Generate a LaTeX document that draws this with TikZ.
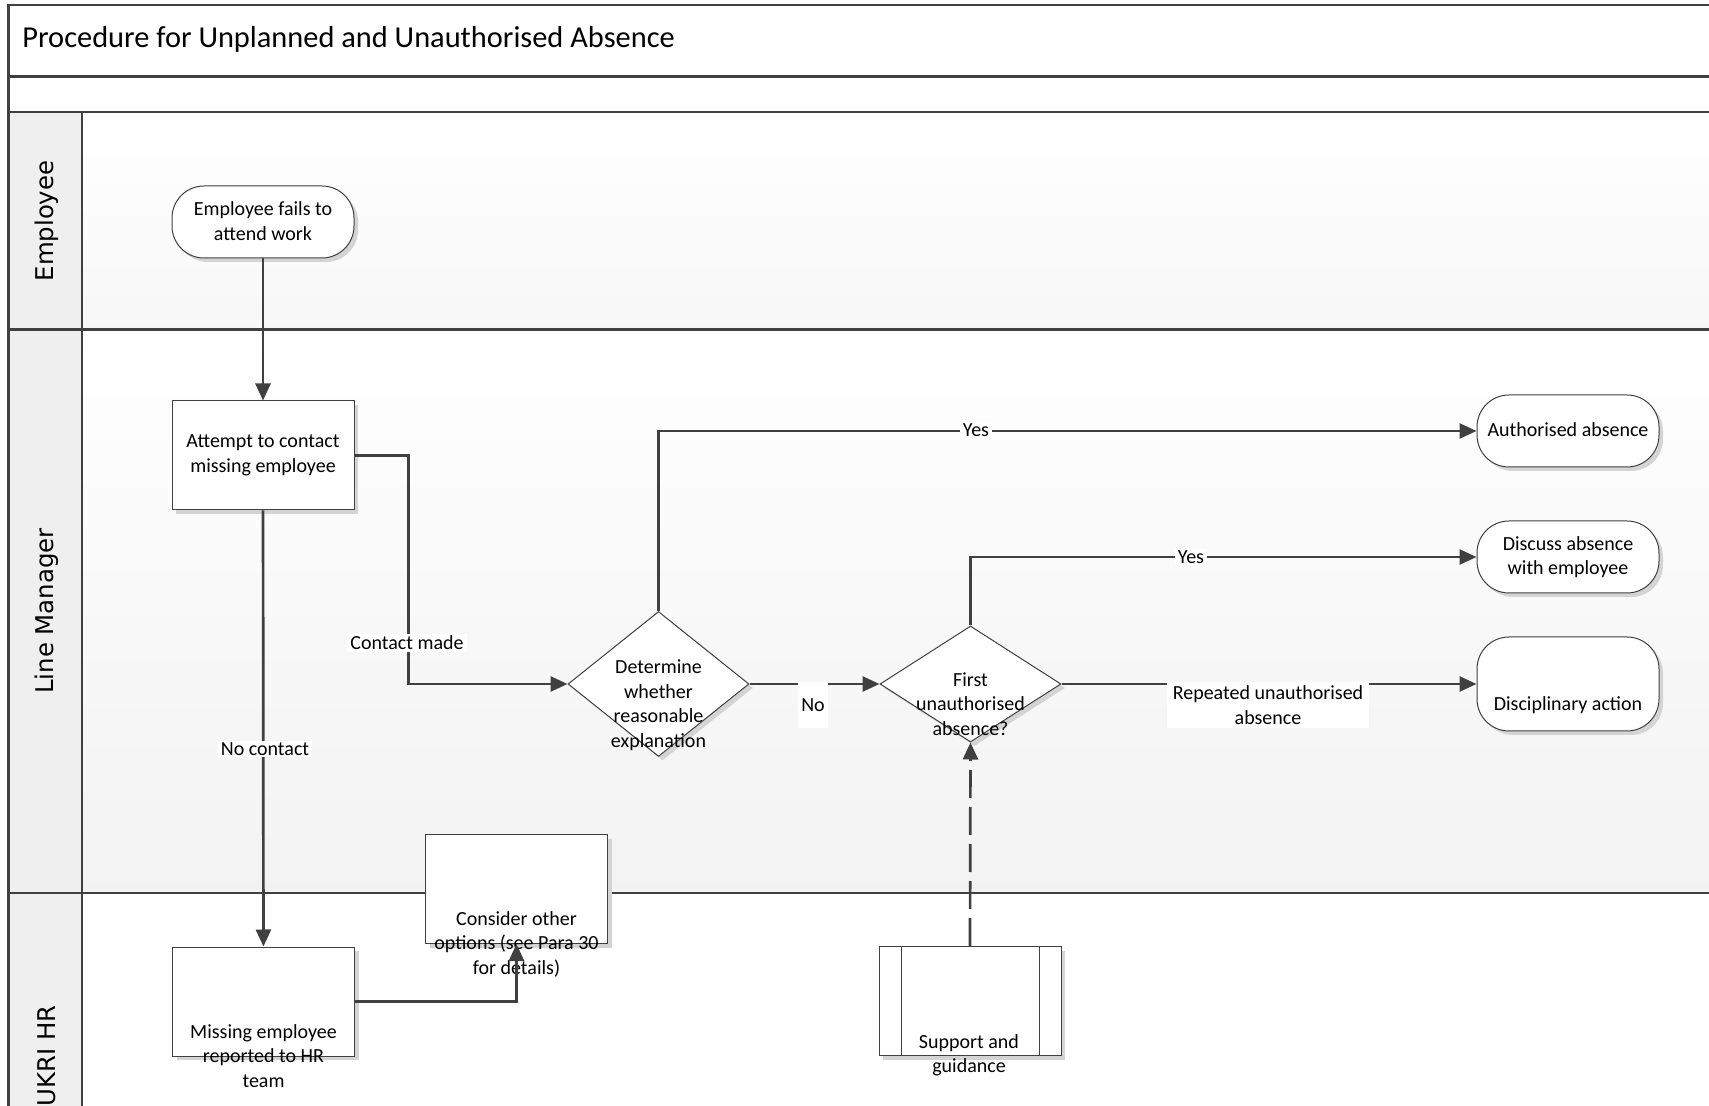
\documentclass[tikz,border=0pt]{standalone}
\usepackage{fontspec}
\setmainfont{Carlito}
\newfontfamily\lanefont{DejaVu Sans}
\usetikzlibrary{shapes.geometric,arrows.meta,shadows}
\definecolor{ln}{HTML}{404040}
\definecolor{hdr}{HTML}{EFEFEF}
\definecolor{shd}{HTML}{D4D4D4}
\begin{document}
\begin{tikzpicture}[x=0.5pt,y=-0.5pt,
  frame/.style={draw=ln, line width=1.3pt},
  shadowed/.style={general shadow={fill=shd, shadow xshift=2pt, shadow yshift=-2pt}},
  shapebase/.style={draw=ln, line width=0.5pt, fill=white, inner sep=0pt, shadowed},
  terminal/.style={shapebase, rectangle, rounded corners=16pt, minimum width=91pt, minimum height=36pt},
  procbox/.style={shapebase, rectangle, minimum width=91pt, minimum height=54.5pt},
  decision/.style={shapebase, diamond, minimum width=90.5pt},
  txt/.style={font=\fontsize{10pt}{12.25pt}\selectfont, align=center, inner sep=0pt, text=black},
  conn/.style={draw=ln, line width=1.35pt, -{Triangle[length=8.5pt,width=7.5pt]}},
  lbl/.style={txt, fill=white, inner xsep=1.5pt, inner ysep=1pt},
  lanelbl/.style={font=\lanefont\fontsize{12.2pt}{14pt}\selectfont, rotate=90, text=black, inner sep=0pt}
]
\clip (0,0) rectangle (1709,1106);
\useasboundingbox (0,0) rectangle (1709,1106);

% backgrounds
\fill[white] (0,0) rectangle (1709,1106);
\shade[top color=white, bottom color=black!3] (82,112) rectangle (1709,329.5);
\shade[top color=white, bottom color=black!5] (82,329.5) rectangle (1709,893);
\fill[white] (82,893) rectangle (1709,1219);
\fill[hdr] (8.7,112) rectangle (82,1219);

% frame
\draw[frame] (1709,5) -- (8.7,5) -- (8.7,1219);
\draw[frame] (8.7,76.5) -- (1709,76.5);
\draw[frame] (8.7,112) -- (1709,112);
\draw[frame] (8.7,329.5) -- (1709,329.5);
\draw[frame] (8.7,893) -- (1709,893);
\draw[frame] (82,112) -- (82,1219);

% title and lanes
\node[anchor=west, inner sep=0pt, font=\fontsize{15.2pt}{18pt}\selectfont] (title) at (22,39) {Procedure for Unplanned and Unauthorised Absence};
\node[lanelbl] (laneEmp) at (47,221) {Employee};
\node[lanelbl] (laneLM) at (47,611) {Line Manager};
\node[lanelbl] (laneHR) at (47,1056) {UKRI HR};

% shapes
\node[terminal] (start) at (263,222) {};
\node[procbox] (attempt) at (263,455.5) {};
\node[decision, minimum height=72.5pt] (determine) at (658.5,684) {};
\node[decision, minimum height=58pt] (first) at (970.5,684) {};
\node[terminal] (authorised) at (1568,431) {};
\node[terminal] (discuss) at (1568,557) {};
\node[terminal, minimum height=47pt] (disciplinary) at (1568,684) {};
\node[procbox] (missing) at (263.5,1001.5) {};
\node[procbox] (consider) at (516.5,889) {};
\node[procbox] (support) at (970,1001) {};
\draw[ln, line width=0.5pt] ([xshift=11.5pt]support.north west) -- ([xshift=11.5pt]support.south west);
\draw[ln, line width=0.5pt] ([xshift=-11pt]support.north east) -- ([xshift=-11pt]support.south east);

% shape texts
\node[txt] (tStart) at (263,221) {Employee fails to\\attend work};
\node[txt] (tAttempt) at (263,455.5) {Attempt to contact\\missing employee};
\node[txt] (tDetermine) at (658.5,705) {Determine\\whether\\reasonable\\explanation};
\node[txt] (tFirst) at (970.5,704) {First\\unauthorised\\absence?};
\node[txt] (tAuthorised) at (1568,430) {Authorised absence};
\node[txt] (tDiscuss) at (1568,557) {Discuss absence\\with employee};
\node[txt] (tDisciplinary) at (1568,705) {Disciplinary action};
\node[txt] (tMissing) at (263.5,1056) {Missing employee\\reported to HR\\team};
\node[txt] (tConsider) at (516.5,944) {Consider other\\options (see Para 30\\for details)};
\node[txt] (tSupport) at (969,1055.5) {Support and\\guidance};

% connectors
\draw[conn] (start) -- (attempt);
\draw[conn] (attempt.east) -- ++(54,0) |- (determine.west);
\draw[conn] (attempt) -- (missing);
\draw[conn] (determine.north) |- (authorised.west);
\draw[conn] (determine.east) -- (first.west);
\draw[conn] (first.north) |- (discuss.west);
\draw[conn] (first.east) -- (disciplinary.west);
\draw[conn] (missing.east) -| (consider.south);
\draw[conn, dash pattern=on 14pt off 4.5pt] (support.north) -- (first.south);

% connector labels
\node[lbl] (lContact) at (407,643) {Contact made};
\node[lbl] (lNoContact) at (265,749) {No contact};
\node[lbl] (lYes1) at (976,430) {Yes};
\node[lbl] (lYes2) at (1191,557) {Yes};
\node[lbl, minimum height=23pt] (lNo) at (813,705) {No};
\node[lbl, minimum height=23pt, inner xsep=3pt] (lRepeated) at (1268,705) {Repeated unauthorised\\absence};
\end{tikzpicture}
\end{document}
